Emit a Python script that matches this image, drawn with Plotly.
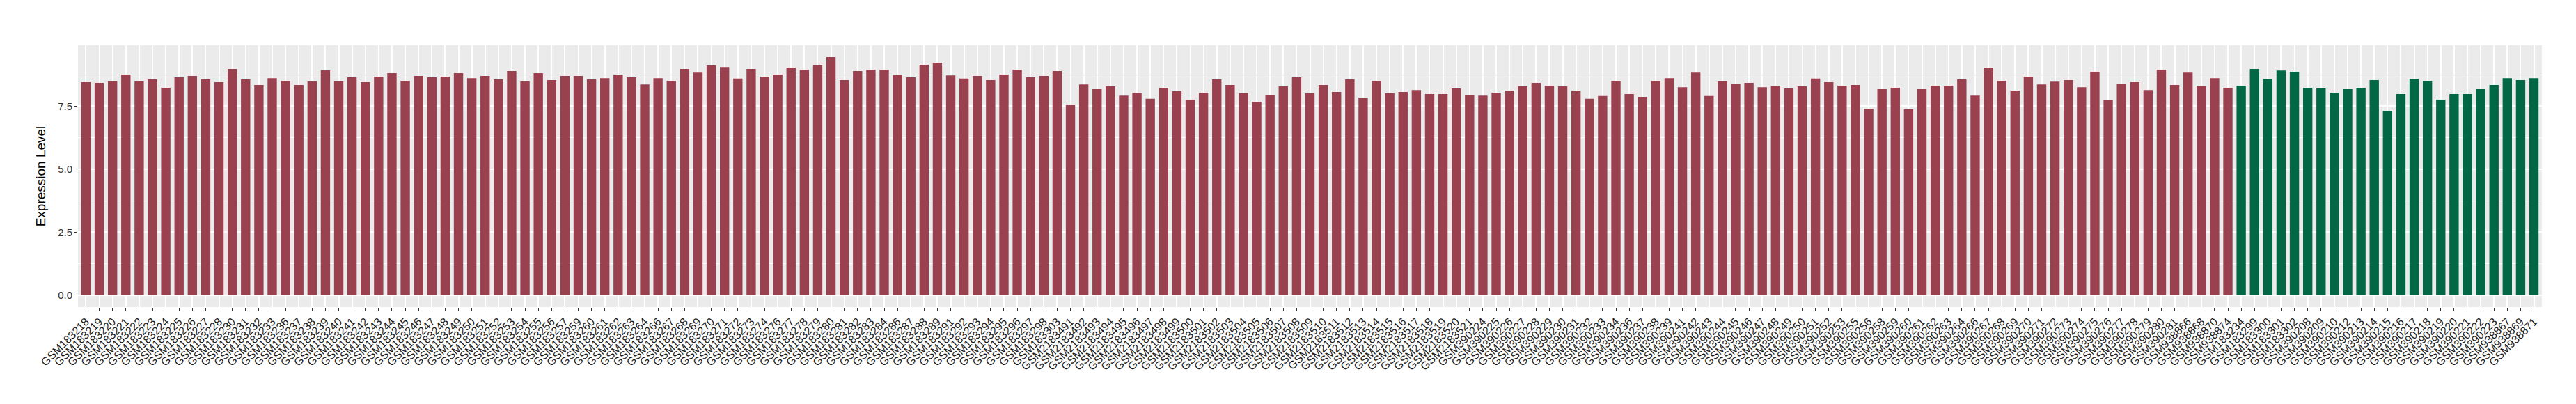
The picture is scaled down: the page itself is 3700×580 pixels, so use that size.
import plotly.graph_objects as go

# ---- categories ----
red_samples = (
    ["GSM1832" + s for s in [
        "18", "19", "20", "21", "22", "23", "24", "25", "26", "27", "28",
        "30", "31", "32", "33",
        "36", "37", "38", "39", "40", "41", "42", "43", "44", "45", "46", "47",
        "48", "49", "50", "51", "52", "53", "54", "55", "56", "57",
        "59", "60", "61", "62", "63", "64",
        "66", "67", "68", "69", "70", "71", "72", "73", "74",
        "76", "77", "78", "79", "80", "81", "82", "83", "84",
        "86", "87", "88", "89",
        "91", "92", "93", "94", "95", "96", "97", "98"]]
    + ["GSM183303"]
    + ["GSM2183" + s for s in [
        "491", "492", "493", "494", "495", "496", "497", "498", "499", "500",
        "501", "502", "503", "504", "505", "506", "507", "508", "509", "510",
        "511", "512", "513", "514", "515", "516", "517", "518", "519", "520", "521"]]
    + ["GSM3902" + s for s in [
        "24", "25", "26", "27", "28", "29", "30", "31", "32", "33", "34",
        "36", "37", "38", "39",
        "41", "42", "43", "44", "45", "46", "47", "48", "49", "50", "51", "52", "53",
        "55", "56",
        "58", "59", "60", "61", "62", "63", "64",
        "66", "67", "68", "69", "70", "71", "72", "73", "74", "75", "76", "77",
        "78", "79", "80", "81"]]
    + ["GSM938866", "GSM938868", "GSM938870", "GSM938874"]
)

green_samples = [
    "GSM183234", "GSM183299", "GSM183300", "GSM183301", "GSM183302",
    "GSM390208", "GSM390209", "GSM390210", "GSM390212", "GSM390213",
    "GSM390214", "GSM390215", "GSM390216", "GSM390217", "GSM390218",
    "GSM390219", "GSM390220", "GSM390221", "GSM390222", "GSM390223",
    "GSM938867", "GSM938869", "GSM938871",
]

# ---- values ----
red_values = [
    8.45, 8.42, 8.48, 8.75, 8.48, 8.56, 8.23, 8.64, 8.70, 8.56,
    8.45, 8.97, 8.56, 8.34, 8.61, 8.50, 8.34, 8.48, 8.92, 8.48,
    8.64, 8.45, 8.67, 8.81, 8.50, 8.70, 8.64, 8.67, 8.81, 8.61,
    8.70, 8.56, 8.89, 8.48, 8.81, 8.53, 8.70, 8.70,
    8.56, 8.61, 8.75, 8.64, 8.36, 8.61, 8.50, 8.97, 8.83, 9.11,
    9.05, 8.59, 8.97, 8.67, 8.75, 9.03, 8.94, 9.11, 9.44, 8.53,
    8.89, 8.94, 8.94, 8.75, 8.64, 9.14, 9.22, 8.72, 8.59, 8.70,
    8.53, 8.75, 8.94, 8.64, 8.70, 8.89,
    7.54, 8.36, 8.17, 8.28, 7.92, 8.03, 7.79, 8.23, 8.09, 7.76,
    8.03, 8.56, 8.34, 8.01, 7.67, 7.95, 8.28, 8.64, 8.01, 8.34,
    8.06, 8.56, 7.84, 8.50, 8.01, 8.06, 8.14, 7.98, 7.98, 8.20,
    7.95, 7.92, 8.03, 8.12, 8.28, 8.42, 8.31, 8.28,
    8.12, 7.79, 7.90, 8.50, 7.98, 7.87, 8.50, 8.61, 8.25, 8.83,
    7.90, 8.48, 8.39, 8.42, 8.25, 8.31, 8.20, 8.28, 8.59, 8.45,
    8.31, 8.34, 7.40, 8.17, 8.23, 7.38, 8.17, 8.31, 8.31, 8.56,
    7.92, 9.03, 8.50, 8.12, 8.67, 8.36,
    8.47, 8.53, 8.25, 8.86, 7.73, 8.39, 8.45, 8.14, 8.94, 8.34,
    8.83, 8.31, 8.61, 8.23,
]

green_values = [
    8.31, 8.97, 8.58, 8.91, 8.86, 8.22, 8.20, 8.03, 8.17, 8.22,
    8.53, 7.31, 7.98, 8.58, 8.50, 7.76, 7.98, 7.98, 8.17, 8.34,
    8.61, 8.53, 8.61,
]

y_ticks = [0, 2.5, 5.0, 7.5]
y_ticktext = ["0.0", "2.5", "5.0", "7.5"]
y_minor = [1.25, 3.75, 6.25, 8.75]

RED = "#9A4150"
GREEN = "#016745"

categories = red_samples + green_samples
n = len(categories)
ymax = max(red_values + green_values)

fig = go.Figure()
fig.add_trace(go.Bar(x=red_samples, y=red_values, marker_color=RED,
                     marker_line_width=0, showlegend=False))
fig.add_trace(go.Bar(x=green_samples, y=green_values, marker_color=GREEN,
                     marker_line_width=0, showlegend=False))

fig.update_layout(
    width=3700, height=580,
    margin=dict(l=104, r=57, t=57, b=147),
    paper_bgcolor="white",
    plot_bgcolor="#EBEBEB",
    barmode="overlay",
    bargap=0.3,
    font=dict(family="Liberation Sans, Arial, sans-serif", color="#303030"),
)

fig.update_xaxes(
    type="category",
    categoryorder="array", categoryarray=categories,
    range=[-0.6, n - 0.4],
    showgrid=True, gridcolor="white", gridwidth=1.5,
    ticks="outside", ticklen=4, tickwidth=1, tickcolor="#333333",
    tickangle=-45,
    tickfont=dict(size=16, color="#1a1a1a"),
    showline=False, zeroline=False,
)

fig.update_yaxes(
    range=[-0.05 * ymax, 1.05 * ymax],
    tickmode="array", tickvals=y_ticks, ticktext=y_ticktext,
    showgrid=True, gridcolor="white", gridwidth=1.5,
    minor=dict(tickmode="array", tickvals=y_minor, showgrid=True,
               gridcolor="white", gridwidth=0.7, ticks=""),
    ticks="outside", ticklen=4, tickwidth=1, tickcolor="#333333",
    tickfont=dict(size=15, color="#303030"),
    title=dict(text="Expression Level", font=dict(size=19, color="black"), standoff=12),
    showline=False, zeroline=False,
)

fig.write_html("out.html")
